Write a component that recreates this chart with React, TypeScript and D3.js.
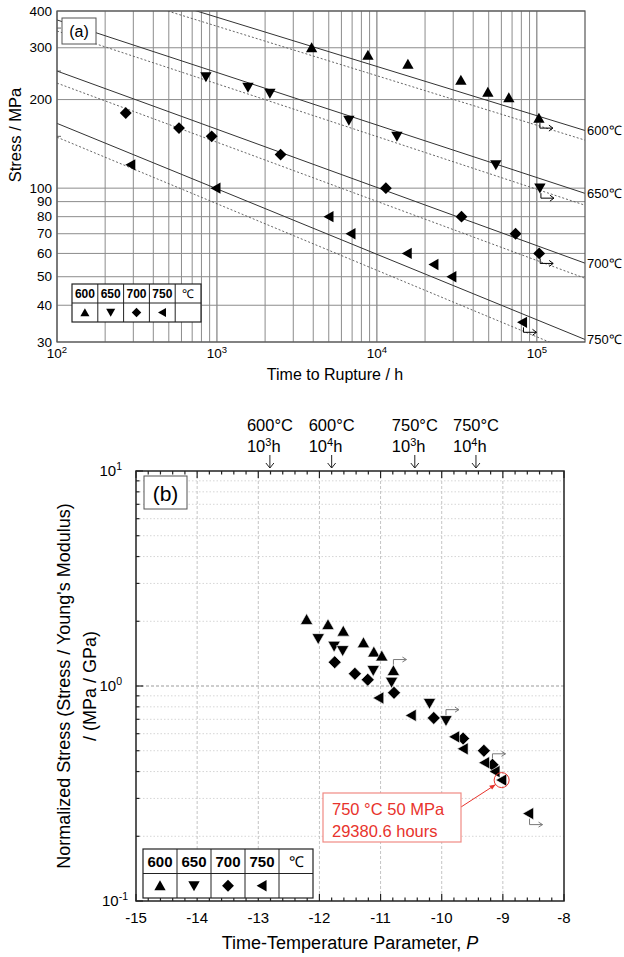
import React from 'react';
import * as d3 from 'd3';

// ---- panel (a): time to rupture vs stress ----
const TEMPS = [600, 650, 700, 750];

const time600 = [3908, 8790, 15630, 33500, 49400, 66800, 103000];
const stress600 = [300, 283, 264, 233, 212, 203, 173];
const time650 = [853, 1563, 2143, 6680, 13340, 55400, 104500];
const stress650 = [239, 220, 210, 170, 150, 120, 100];
const time700 = [269, 579, 927, 2500, 11380, 33800, 73600, 103400];
const stress700 = [180, 160, 150, 130, 100, 80, 70, 60];
const time750 = [289, 985, 5010, 6880, 15460, 22700, 29380.6, 81300];
const stress750 = [120, 100, 80, 70, 60, 55, 50, 35];
// index of the run-out (unbroken) specimen in each series
const runoutIndex = [6, 6, 7, 7];

// fitted lines, stress at t = 1e2 h and t = 2e5 h
const solidStart = [560, 373, 250, 166];
const solidEnd = [157, 96, 55.6, 30.6];
const dottedStart = [523, 342, 227.5, 149];
const dottedEnd = [145.6, 87.5, 49.4, 26.7];

const stressTicks = [30, 40, 50, 60, 70, 80, 90, 100, 200, 300, 400];
const timeDecades = [2, 3, 4, 5];

// ---- panel (b): normalized stress vs time-temperature parameter ----
const param600 = [-12.21, -11.86, -11.61, -11.28, -11.11, -10.98, -10.79];
const norm600 = [2.04, 1.93, 1.8, 1.59, 1.44, 1.38, 1.18];
const param650 = [-12.02, -11.76, -11.62, -11.12, -10.82, -10.2, -9.93];
const norm650 = [1.66, 1.53, 1.46, 1.18, 1.04, 0.83, 0.69];
const param700 = [-11.75, -11.42, -11.21, -10.78, -10.13, -9.65, -9.31, -9.17];
const norm700 = [1.29, 1.14, 1.07, 0.93, 0.71, 0.57, 0.5, 0.43];
const param750 = [-11.03, -10.5, -9.79, -9.65, -9.3, -9.13, -9.02, -8.58];
const norm750 = [0.88, 0.73, 0.58, 0.51, 0.44, 0.4, 0.365, 0.255];

const paramTicks = [-15, -14, -13, -12, -11, -10, -9, -8];
const topMarks = [
  { p: -12.81, temp: '600°C', exp: '3' },
  { p: -11.8, temp: '600°C', exp: '4' },
  { p: -10.44, temp: '750°C', exp: '3' },
  { p: -9.44, temp: '750°C', exp: '4' },
];

const FONT = '"Liberation Sans", Arial, sans-serif';
const KINDS = ['up', 'down', 'diamond', 'left'];

function markerPath(kind: string, s: number) {
  if (kind === 'up') return `M0,${-s}L${s * 1.05},${s * 0.85}L${-s * 1.05},${s * 0.85}Z`;
  if (kind === 'down') return `M0,${s}L${s * 1.05},${-s * 0.85}L${-s * 1.05},${-s * 0.85}Z`;
  if (kind === 'diamond') return `M0,${-s * 1.1}L${s * 1.1},0L0,${s * 1.1}L${-s * 1.1},0Z`;
  return `M${-s},0L${s * 0.85},${-s * 1.05}L${s * 0.85},${s * 1.05}Z`;
}

const Legend = ({ x, y, w, h, size }: any) => {
  const cw = w / 5;
  const labels = ['600', '650', '700', '750', '℃'];
  return (
    <g transform={`translate(${x},${y})`} fontFamily={FONT}>
      <rect width={w} height={h} fill="white" stroke="#222" strokeWidth={1.2} />
      <line x1={0} x2={w} y1={h / 2} y2={h / 2} stroke="#222" />
      {d3.range(1, 5).map((i) => (
        <line key={i} x1={i * cw} x2={i * cw} y1={0} y2={h} stroke="#222" />
      ))}
      {labels.map((l, i) => (
        <text key={l} x={i * cw + cw / 2} y={h / 4 + size * 0.36} textAnchor="middle"
          fontSize={size} fontWeight={i < 4 ? 'bold' : 'normal'}>{l}</text>
      ))}
      {KINDS.map((k, i) => (
        <path key={k} d={markerPath(k, size * 0.36)}
          transform={`translate(${i * cw + cw / 2},${(h * 3) / 4})`} fill="#000" />
      ))}
    </g>
  );
};

export default function App() {
  // panel (a)
  const ax = d3.scaleLog().domain([100, 2e5]).range([57, 585]);
  const ay = d3.scaleLog().domain([30, 400]).range([342, 11]);
  const timeSeries = [time600, time650, time700, time750];
  const stressSeries = [stress600, stress650, stress700, stress750];
  const minorTimes = timeDecades.flatMap((d) => d3.range(2, 10).map((m) => m * 10 ** d)).filter((v) => v < 2e5);

  // panel (b)
  const bx = d3.scaleLinear().domain([-15, -8]).range([136, 564]);
  const by = d3.scaleLog().domain([0.1, 10]).range([901, 471]);
  const paramSeries = [param600, param650, param700, param750];
  const normSeries = [norm600, norm650, norm700, norm750];
  const minorNorms = [0.2, 0.3, 0.4, 0.5, 0.6, 0.7, 0.8, 0.9, 2, 3, 4, 5, 6, 7, 8, 9];
  const minorParams = d3.range(-15, -7.9, 0.2).map((v) => +v.toFixed(1));

  const line = d3.line<[number, number]>().x((d) => ax(d[0])).y((d) => ay(d[1]));
  const red = '#e8332c';
  const hl = { x: bx(-9.02), y: by(0.365) };

  return (
    <svg width={624} height={957} style={{ position: 'absolute', left: 0, top: 0, background: 'white' }}
      fontFamily={FONT}>
      <defs>
        <clipPath id="clipA"><rect x={57} y={11} width={528} height={331} /></clipPath>
      </defs>

      {/* ===== panel (a) ===== */}
      <g>
        {minorTimes.map((v) => (
          <line key={'gx' + v} x1={ax(v)} x2={ax(v)} y1={11} y2={342} stroke="#8c8c8c" strokeWidth={1} />
        ))}
        {timeDecades.map((d) => (
          <line key={'gd' + d} x1={ax(10 ** d)} x2={ax(10 ** d)} y1={11} y2={342} stroke="#666" strokeWidth={1} />
        ))}
        {stressTicks.map((v) => (
          <line key={'gy' + v} x1={57} x2={585} y1={ay(v)} y2={ay(v)} stroke="#8c8c8c" strokeWidth={1} />
        ))}
        {[150, 250, 350].map((v) => (
          <line key={'my' + v} x1={57} x2={61} y1={ay(v)} y2={ay(v)} stroke="#666" />
        ))}
        <g clipPath="url(#clipA)">
          {TEMPS.map((t, i) => (
            <g key={'ln' + t}>
              <path d={line([[100, solidStart[i]], [2e5, solidEnd[i]]]) || ''} stroke="#333" strokeWidth={1} fill="none" />
              <path d={line([[100, dottedStart[i]], [2e5, dottedEnd[i]]]) || ''} stroke="#555" strokeWidth={0.9}
                strokeDasharray="2,2" fill="none" />
            </g>
          ))}
        </g>
        <rect x={57} y={11} width={528} height={331} fill="none" stroke="#555" strokeWidth={1.2} />

        {TEMPS.map((t, i) => (
          <g key={'pt' + t}>
            {timeSeries[i].map((tv, j) => {
              const x = ax(tv);
              const y = ay(stressSeries[i][j]);
              return (
                <g key={j}>
                  <path d={markerPath(KINDS[i], 5.4)} transform={`translate(${x},${y})`} fill="#000" />
                  {j === runoutIndex[i] && (
                    <path d={`M${x + 1},${y + 5}V${y + 10}H${x + 14}M${x + 10},${y + 7}L${x + 14},${y + 10}L${x + 10},${y + 13}`}
                      fill="none" stroke="#000" strokeWidth={1} />
                  )}
                </g>
              );
            })}
            <text x={587} y={ay(solidEnd[i]) + 4.5} fontSize={13}>{t}℃</text>
          </g>
        ))}

        {stressTicks.map((v) => (
          <text key={'yl' + v} x={52} y={ay(v) + 4.5} textAnchor="end" fontSize={13.5}>{v}</text>
        ))}
        {timeDecades.map((d) => (
          <text key={'xl' + d} x={ax(10 ** d)} y={358} textAnchor="middle" fontSize={13.5}>
            10<tspan fontSize={9.5} dy={-5}>{d}</tspan>
          </text>
        ))}
        <text x={335} y={380} textAnchor="middle" fontSize={16}>Time to Rupture / h</text>
        <text transform="translate(21,135) rotate(-90)" textAnchor="middle" fontSize={16.5}>Stress / MPa</text>

        <rect x={62} y={18} width={34} height={26} fill="white" stroke="#555" />
        <text x={79} y={37} textAnchor="middle" fontSize={16}>(a)</text>

        <Legend x={72} y={284} w={129} h={38} size={12} />
      </g>

      {/* ===== panel (b) ===== */}
      <g>
        {minorNorms.map((v) => (
          <line key={'bgy' + v} x1={136} x2={564} y1={by(v)} y2={by(v)} stroke="#d6d6d6" strokeDasharray="1.5,2" />
        ))}
        <line x1={136} x2={564} y1={by(1)} y2={by(1)} stroke="#bdbdbd" strokeWidth={1.3} strokeDasharray="3,2" />
        {paramTicks.slice(1, -1).map((v) => (
          <line key={'bgx' + v} x1={bx(v)} x2={bx(v)} y1={471} y2={901} stroke="#c4c4c4" strokeDasharray="3,2" />
        ))}

        {/* ticks, inward */}
        {minorParams.map((v) => {
          const major = Math.abs(v - Math.round(v)) < 1e-6;
          const len = major ? 7 : 3.5;
          return (
            <g key={'bt' + v}>
              <line x1={bx(v)} x2={bx(v)} y1={471} y2={471 + len} stroke="#222" strokeWidth={1.2} />
              <line x1={bx(v)} x2={bx(v)} y1={901} y2={901 - len} stroke="#222" strokeWidth={1.2} />
            </g>
          );
        })}
        {[...minorNorms, 0.1, 1, 10].map((v) => {
          const major = v === 0.1 || v === 1 || v === 10;
          return (
            <line key={'blt' + v} x1={136} x2={136 + (major ? 7 : 3.5)} y1={by(v)} y2={by(v)} stroke="#222" strokeWidth={1.2} />
          );
        })}
        <rect x={136} y={471} width={428} height={430} fill="none" stroke="#222" strokeWidth={1.5} />

        {TEMPS.map((t, i) => (
          <g key={'bp' + t}>
            {paramSeries[i].map((pv, j) => {
              const x = bx(pv);
              const y = by(normSeries[i][j]);
              const up = i < 3;
              return (
                <g key={j}>
                  {j === runoutIndex[i] && (
                    <path d={up
                      ? `M${x},${y - 5}V${y - 11}H${x + 13}M${x + 9},${y - 13.5}L${x + 13},${y - 11}L${x + 9},${y - 8.5}`
                      : `M${x + 1},${y + 5}V${y + 11}H${x + 14}M${x + 10},${y + 8.5}L${x + 14},${y + 11}L${x + 10},${y + 13.5}`}
                      fill="none" stroke="#7a7a7a" strokeWidth={1} />
                  )}
                  <path d={markerPath(KINDS[i], 5.9)} transform={`translate(${x},${y})`} fill="#000"
                    stroke="white" strokeWidth={0.6} />
                </g>
              );
            })}
          </g>
        ))}

        {paramTicks.map((v) => (
          <text key={'bxl' + v} x={bx(v)} y={923} textAnchor="middle" fontSize={15}>{v}</text>
        ))}
        {[[10, '1'], [1, '0'], [0.1, '-1']].map(([v, e]: any) => (
          <text key={'byl' + e} x={e === '-1' ? 128 : 122} y={by(v) + 5} textAnchor="end" fontSize={15}>
            10<tspan fontSize={10.5} dy={-6}>{e}</tspan>
          </text>
        ))}
        <text x={350} y={949} textAnchor="middle" fontSize={18}>
          Time-Temperature Parameter, <tspan fontStyle="italic">P</tspan>
        </text>
        <text transform="translate(70,686) rotate(-90)" textAnchor="middle" fontSize={18}>
          Normalized Stress (Stress / Young's Modulus)
        </text>
        <text transform="translate(96,686) rotate(-90)" textAnchor="middle" fontSize={18}>/ (MPa / GPa)</text>

        {topMarks.map((m) => {
          const x = bx(m.p);
          return (
            <g key={m.p}>
              <text x={x - 23} y={431} fontSize={16.5}>{m.temp}</text>
              <text x={x - 23} y={452} fontSize={16.5}>
                10<tspan fontSize={11} dy={-6}>{m.exp}</tspan><tspan dy={6}>h</tspan>
              </text>
              <path d={`M${x},${455}V${468}M${x - 4},${463}L${x},${468}L${x + 4},${463}`} fill="none" stroke="#222" strokeWidth={1} />
            </g>
          );
        })}

        <rect x={144} y={476} width={43} height={33} fill="white" stroke="#555" />
        <text x={165.5} y={500.5} textAnchor="middle" fontSize={21}>(b)</text>

        <Legend x={143} y={849} w={170} h={49} size={15} />

        {/* highlighted specimen */}
        <circle cx={hl.x} cy={hl.y} r={7.5} fill="none" stroke={red} strokeWidth={1} />
        <line x1={461} y1={807} x2={hl.x - 6} y2={hl.y + 4.5} stroke={red} strokeWidth={1} />
        <path d={`M${hl.x - 6},${hl.y + 4.5}l-6.5,1.2l3,3.6z`} fill={red} />
        <rect x={323} y={793} width={138} height={49} fill="white" stroke="#f08a84" strokeWidth={1.2} />
        <text x={332} y={815} fontSize={16.5} fill={red}>750 °C 50 MPa</text>
        <text x={332} y={837} fontSize={16.5} fill={red}>29380.6 hours</text>
      </g>
    </svg>
  );
}
